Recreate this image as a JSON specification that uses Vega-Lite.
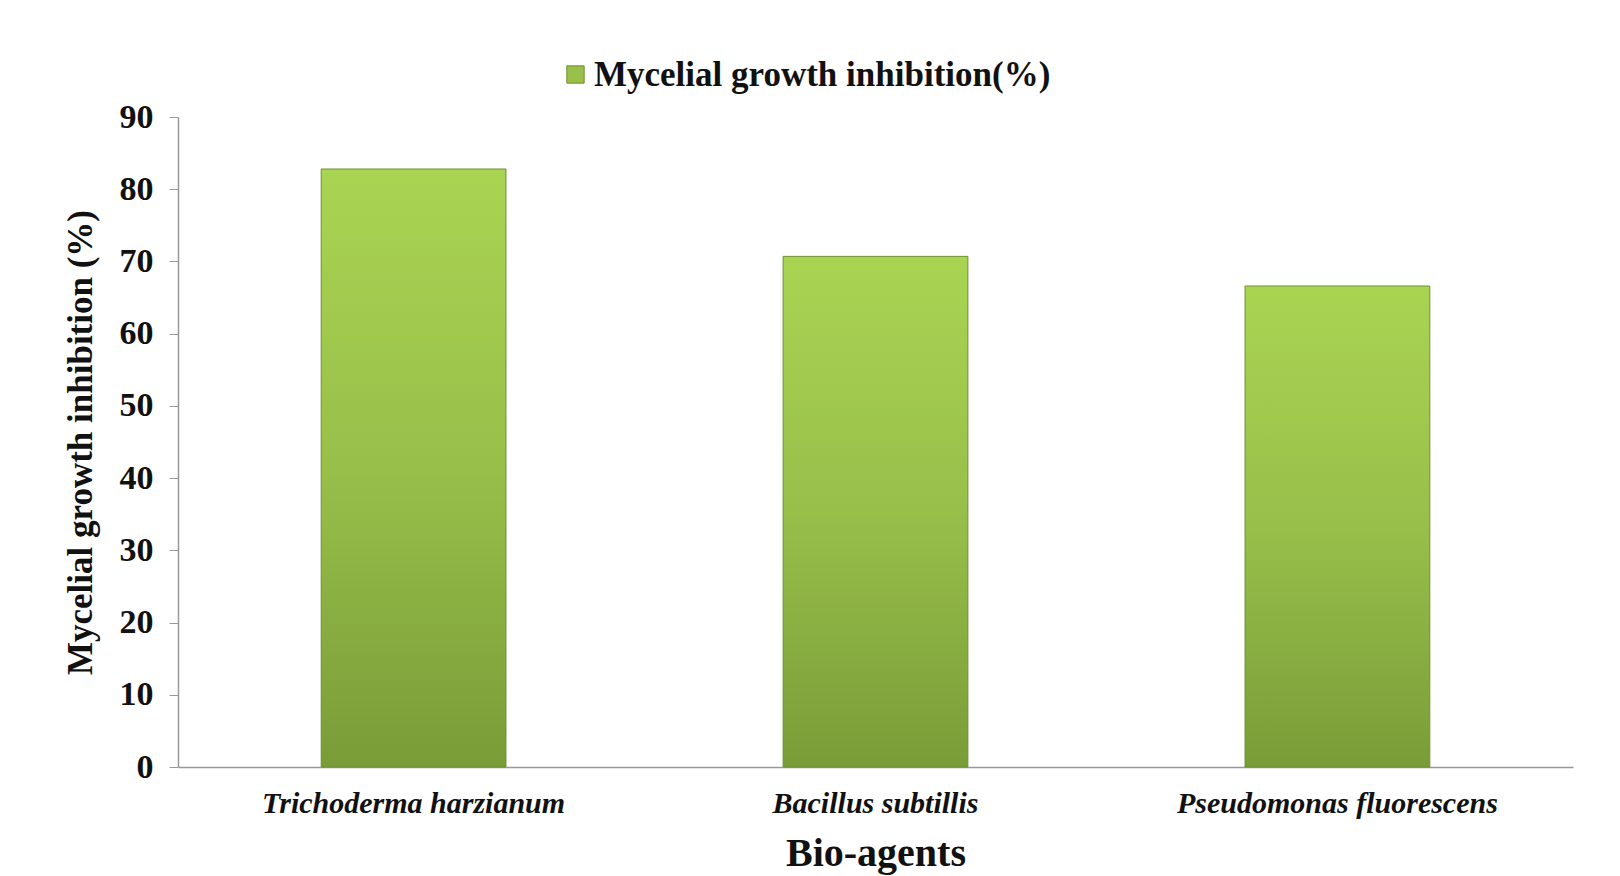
{
  "$schema": "https://vega.github.io/schema/vega-lite/v6.json",
  "width": 1395,
  "height": 650,
  "autosize": {"type": "none"},
  "padding": {"left": 178, "top": 117, "right": 47, "bottom": 109},
  "background": "white",
  "data": {"values": [
    {"agent": "Trichoderma harzianum", "value": 82.8, "series": "Mycelial growth inhibition(%)"},
    {"agent": "Bacillus subtillis", "value": 70.7, "series": "Mycelial growth inhibition(%)"},
    {"agent": "Pseudomonas fluorescens", "value": 66.6, "series": "Mycelial growth inhibition(%)"}
  ]},
  "encoding": {
    "x": {
      "field": "agent", "type": "nominal", "sort": null,
      "scale": {"paddingInner": 0.6, "paddingOuter": 0.31},
      "axis": {
        "title": "Bio-agents", "labelAngle": 0, "labelLimit": 600,
        "labelFont": "Liberation Serif", "labelFontStyle": "italic", "labelFontWeight": "bold",
        "labelFontSize": 30, "labelColor": "#111", "labelPadding": 21,
        "ticks": false, "domainColor": "#999", "domainWidth": 1.5,
        "titleFont": "Liberation Serif", "titleFontWeight": "bold", "titleFontSize": 40,
        "titleColor": "#111", "titlePadding": 15
      }
    },
    "y": {
      "field": "value", "type": "quantitative",
      "scale": {"domain": [0, 90]},
      "axis": {
        "title": "Mycelial growth inhibition (%)", "values": [0,10,20,30,40,50,60,70,80,90],
        "grid": false, "tickColor": "#999", "tickSize": 9, "domainColor": "#999", "domainWidth": 1.5,
        "labelFont": "Liberation Serif", "labelFontWeight": "bold", "labelFontSize": 34,
        "labelColor": "#111", "labelPadding": 16,
        "titleFont": "Liberation Serif", "titleFontWeight": "bold", "titleFontSize": 35,
        "titleColor": "#111", "titlePadding": 21
      }
    }
  },
  "layer": [
    {
      "mark": {"type": "bar", "stroke": "#6f8f30", "strokeWidth": 1,
        "fill": {"gradient": "linear", "x1": 0, "y1": 0, "x2": 0, "y2": 1,
          "stops": [{"offset": 0, "color": "#a9d452"}, {"offset": 0.5, "color": "#98bf4a"}, {"offset": 1, "color": "#7a9c38"}]}}
    },
    {
      "mark": {"type": "bar", "opacity": 0},
      "encoding": {
        "color": {
          "field": "series", "type": "nominal",
          "scale": {"range": ["#98c04a"]},
          "legend": {
            "title": null, "orient": "none", "legendX": 380, "legendY": -60,
            "symbolType": "square", "symbolSize": 300, "symbolOpacity": 1,
            "symbolStrokeColor": "#6f8f30", "symbolStrokeWidth": 1,
            "labelFont": "Liberation Serif", "labelFontWeight": "bold", "labelFontSize": 35,
            "labelColor": "#111", "labelOffset": 1, "labelLimit": 700
          }
        }
      }
    }
  ],
  "config": {"view": {"stroke": null}}
}
